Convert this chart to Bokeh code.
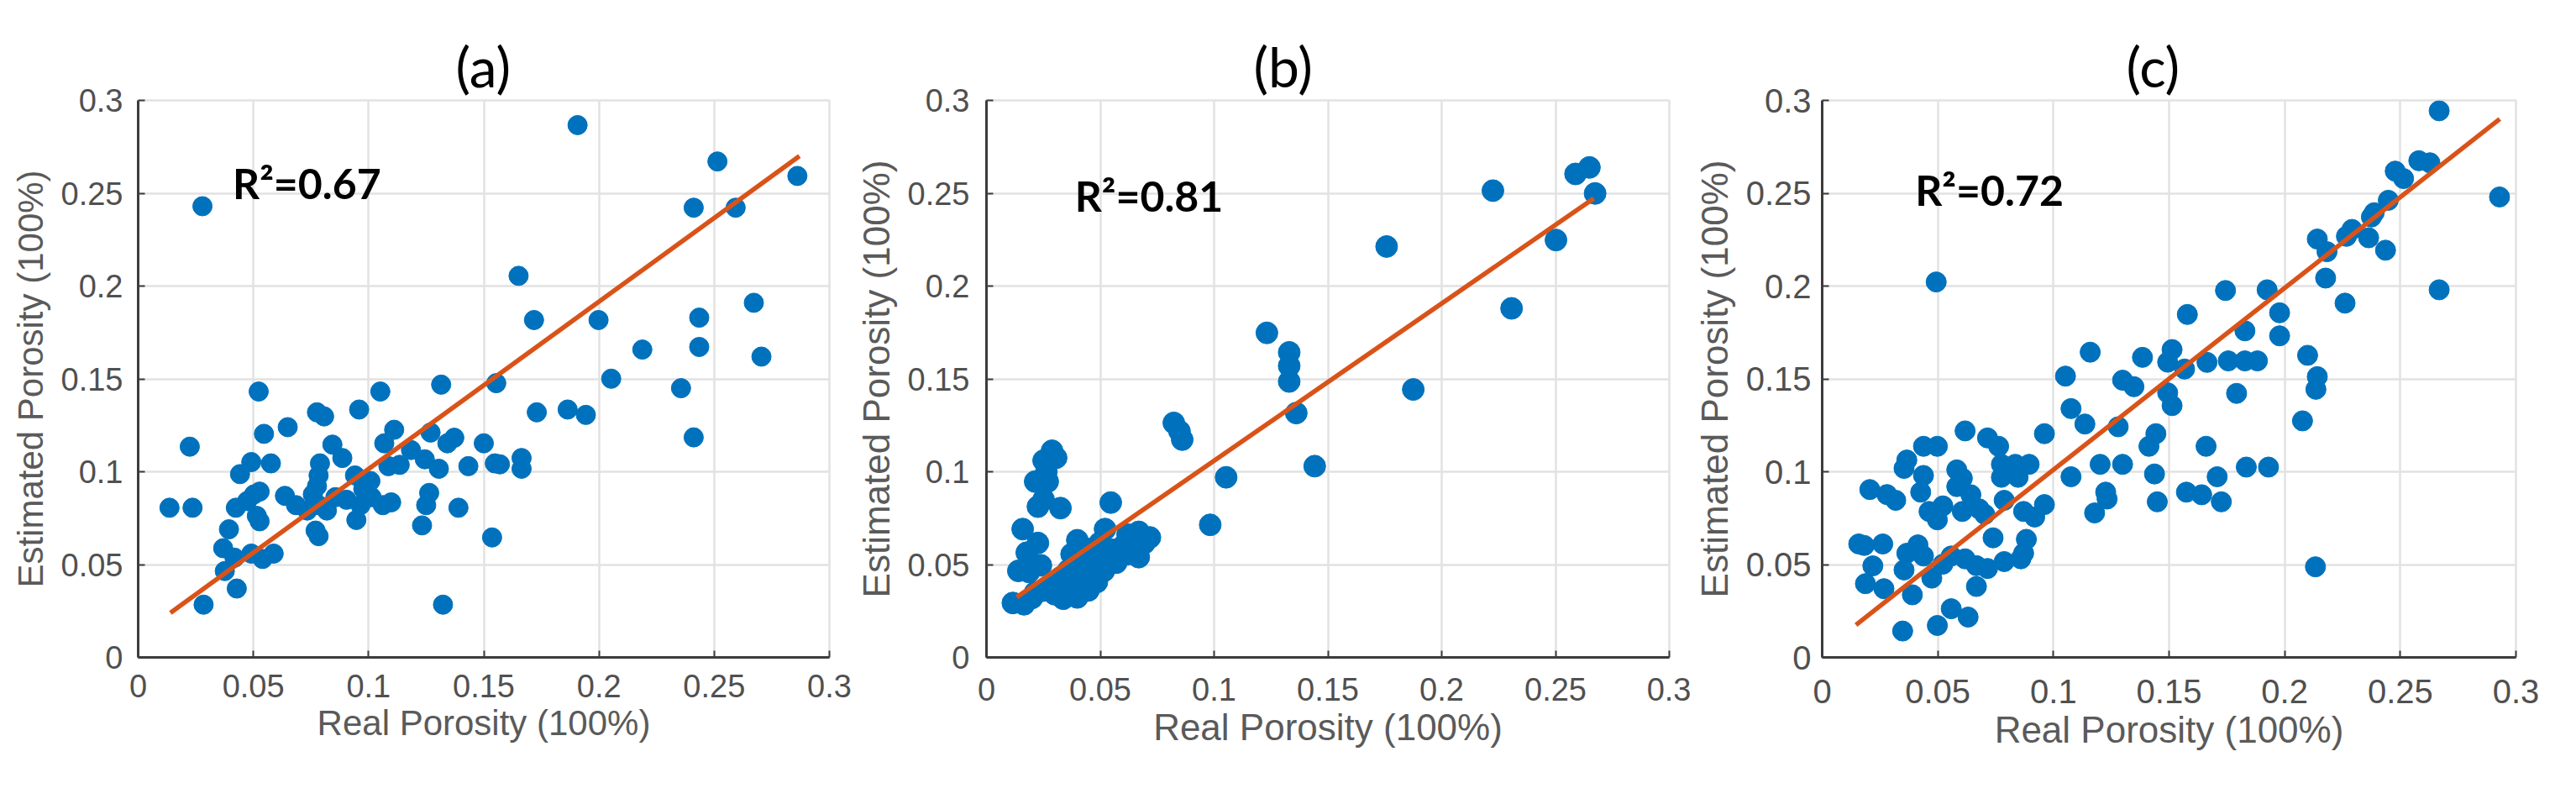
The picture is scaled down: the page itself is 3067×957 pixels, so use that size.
from bokeh.plotting import figure
from bokeh.layouts import row
from bokeh.models import Label, FixedTicker, Range1d
from bokeh.embed import file_html
from bokeh.resources import INLINE

# ---------------- data ----------------
tick_values = [0, 0.05, 0.1, 0.15, 0.2, 0.25, 0.3]
tick_labels = ["0", "0.05", "0.1", "0.15", "0.2", "0.25", "0.3"]
x_label = "Real Porosity (100%)"
y_label = "Estimated Porosity (100%)"
panel_titles = ["(a)", "(b)", "(c)"]
r2_values = ["0.67", "0.81", "0.72"]

a_pts = [(0.0224, 0.1135), (0.0136, 0.0806), (0.0236, 0.0806), (0.0284, 0.0284), (0.0428, 0.0371),
         (0.0394, 0.069), (0.0369, 0.0588), (0.0376, 0.0465), (0.0418, 0.0537), (0.0442, 0.0987),
         (0.0424, 0.0806), (0.0473, 0.0842), (0.0503, 0.0878), (0.0527, 0.0893), (0.0515, 0.0762),
         (0.0527, 0.0733), (0.0491, 0.1052), (0.0576, 0.1045), (0.0546, 0.1204), (0.0649, 0.124),
         (0.0523, 0.1432), (0.0776, 0.132), (0.0807, 0.1298), (0.0959, 0.1335), (0.0843, 0.1146),
         (0.0886, 0.1074), (0.0789, 0.1045), (0.0783, 0.098), (0.0776, 0.0922), (0.0637, 0.087),
         (0.0685, 0.082), (0.0734, 0.0791), (0.0758, 0.0878), (0.0783, 0.082), (0.0819, 0.0791),
         (0.077, 0.0683), (0.0783, 0.0653), (0.0856, 0.0863), (0.0904, 0.0849), (0.0941, 0.098),
         (0.0947, 0.074), (0.0965, 0.082), (0.1008, 0.095), (0.1013, 0.0863), (0.1062, 0.082),
         (0.1098, 0.0835), (0.1086, 0.103), (0.1135, 0.1037), (0.1068, 0.1153), (0.1111, 0.1226),
         (0.1184, 0.1117), (0.1244, 0.1067), (0.1305, 0.1016), (0.1269, 0.1211), (0.1342, 0.1153),
         (0.1372, 0.1183), (0.1263, 0.0886), (0.125, 0.082), (0.1232, 0.0711), (0.139, 0.0806),
         (0.1323, 0.0284), (0.1433, 0.103), (0.15, 0.1153), (0.1548, 0.1045), (0.1536, 0.0646),
         (0.0588, 0.0559), (0.054, 0.053), (0.0491, 0.0559), (0.0977, 0.0907),
         (0.1907, 0.2867), (0.0279, 0.243), (0.2514, 0.2671), (0.2861, 0.2593), (0.2411, 0.2422),
         (0.2593, 0.2422), (0.1651, 0.2055), (0.2672, 0.191), (0.1718, 0.1817), (0.1998, 0.1817),
         (0.2435, 0.183), (0.2188, 0.1658), (0.2435, 0.1672), (0.2705, 0.162), (0.2053, 0.1501),
         (0.2356, 0.145), (0.2411, 0.1185), (0.173, 0.132), (0.1864, 0.1335), (0.1943, 0.1306),
         (0.1554, 0.1477), (0.1315, 0.1469), (0.1051, 0.1432), (0.157, 0.104), (0.1664, 0.1074),
         (0.1664, 0.1016)]

b_pts = [(0.0288, 0.1113), (0.0306, 0.1075), (0.0251, 0.106), (0.0263, 0.1), (0.0214, 0.0947),
         (0.0269, 0.0947), (0.0226, 0.0812), (0.0251, 0.085), (0.0325, 0.0804), (0.0546, 0.0834),
         (0.0159, 0.0691), (0.0226, 0.0616), (0.0177, 0.0564), (0.014, 0.0466), (0.0187, 0.046),
         (0.0239, 0.0496), (0.0116, 0.0293), (0.0165, 0.0286), (0.0214, 0.035), (0.0276, 0.0376),
         (0.0337, 0.0316), (0.0399, 0.0323), (0.0325, 0.043), (0.0387, 0.042), (0.0448, 0.0361),
         (0.0485, 0.0406), (0.0399, 0.0631), (0.0374, 0.0556), (0.0436, 0.0586), (0.0521, 0.0691),
         (0.0516, 0.0466), (0.0546, 0.0526), (0.0595, 0.0586), (0.062, 0.0662), (0.0669, 0.0676),
         (0.0694, 0.0616), (0.0669, 0.054), (0.062, 0.0556), (0.057, 0.051), (0.0718, 0.0646),
         (0.0497, 0.0616), (0.0823, 0.1263), (0.0848, 0.1218), (0.086, 0.1173), (0.1053, 0.097),
         (0.0983, 0.0714), (0.1442, 0.103), (0.1361, 0.1316), (0.1758, 0.2213), (0.2225, 0.2514),
         (0.2588, 0.2604), (0.2649, 0.2639), (0.2674, 0.2499), (0.2502, 0.2248), (0.2307, 0.188),
         (0.1875, 0.1443), (0.1232, 0.1748), (0.133, 0.1643), (0.133, 0.157), (0.133, 0.1486),
         (0.035, 0.035), (0.045, 0.045), (0.05, 0.05), (0.04, 0.038), (0.03, 0.04),
         (0.055, 0.058), (0.06, 0.06), (0.065, 0.062), (0.043, 0.05), (0.02, 0.032),
         (0.025, 0.036), (0.03, 0.034), (0.047, 0.041), (0.052, 0.055), (0.036, 0.047)]

c_pts = [(0.1076, 0.134), (0.1136, 0.1257), (0.0961, 0.1205), (0.0618, 0.122), (0.0438, 0.1137),
         (0.0498, 0.1137), (0.0715, 0.1182), (0.0763, 0.1137), (0.0366, 0.1063), (0.0354, 0.1018),
         (0.0438, 0.098), (0.0582, 0.101), (0.0606, 0.0965), (0.0775, 0.104), (0.0835, 0.104),
         (0.0895, 0.104), (0.0775, 0.097), (0.0847, 0.097), (0.1076, 0.0973), (0.1202, 0.104),
         (0.1299, 0.104), (0.1437, 0.0988), (0.1443, 0.1205), (0.1413, 0.1137), (0.166, 0.1137),
         (0.1834, 0.1025), (0.193, 0.1025), (0.1708, 0.0973), (0.1575, 0.089), (0.1641, 0.0876),
         (0.1726, 0.0838), (0.1449, 0.0838), (0.1226, 0.089), (0.1232, 0.0853), (0.1178, 0.0778),
         (0.0318, 0.0846), (0.0426, 0.089), (0.0462, 0.0786), (0.0498, 0.0741), (0.0522, 0.0816),
         (0.0582, 0.092), (0.0606, 0.0786), (0.0643, 0.0876), (0.0679, 0.08), (0.0703, 0.077),
         (0.0787, 0.0846), (0.0871, 0.0786), (0.0919, 0.0756), (0.0961, 0.0823), (0.0739, 0.0644),
         (0.0883, 0.0636), (0.0871, 0.0561), (0.0859, 0.0531), (0.0787, 0.0516), (0.0715, 0.0479),
         (0.0667, 0.0494), (0.0618, 0.0531), (0.0667, 0.0382), (0.0558, 0.0546), (0.0522, 0.0502),
         (0.0474, 0.0427), (0.0414, 0.0606), (0.0438, 0.0546), (0.0366, 0.0561), (0.0354, 0.0471),
         (0.039, 0.0337), (0.0348, 0.0142), (0.0498, 0.0172), (0.0558, 0.0262), (0.0631, 0.0217),
         (0.1513, 0.1356), (0.128, 0.1242),
         (0.2668, 0.2944), (0.2929, 0.248), (0.2668, 0.198), (0.258, 0.2675), (0.2628, 0.2664),
         (0.2478, 0.2619), (0.2514, 0.2579), (0.2448, 0.2462), (0.2387, 0.2395), (0.2375, 0.2372),
         (0.2291, 0.2305), (0.2267, 0.2268), (0.2363, 0.226), (0.2436, 0.2193), (0.2141, 0.2253),
         (0.2183, 0.2185), (0.2177, 0.2043), (0.2261, 0.1908), (0.1924, 0.198), (0.1978, 0.1856),
         (0.1978, 0.1732), (0.1744, 0.1976), (0.1828, 0.1759), (0.2099, 0.1627), (0.2141, 0.1512),
         (0.2135, 0.1444), (0.1792, 0.1422), (0.1756, 0.1597), (0.1828, 0.1597), (0.1882, 0.1597),
         (0.0493, 0.2022), (0.1579, 0.1847), (0.1664, 0.1589), (0.1513, 0.1658), (0.1494, 0.159),
         (0.1567, 0.1553), (0.1494, 0.1425), (0.1385, 0.1616), (0.1348, 0.1458), (0.1299, 0.1493),
         (0.1159, 0.1644), (0.1052, 0.1515), (0.2077, 0.1274), (0.2133, 0.0488), (0.0158, 0.0611),
         (0.0182, 0.0603), (0.0206, 0.0904), (0.028, 0.0877), (0.0262, 0.0611), (0.0219, 0.0493),
         (0.0187, 0.0397), (0.0267, 0.037)]

# fitted regression lines (end points)
a_fit_x = [0.014, 0.287]
a_fit_y = [0.024, 0.270]
b_fit_x = [0.0133, 0.2668]
b_fit_y = [0.0325, 0.2472]
c_fit_x = [0.0146, 0.293]
c_fit_y = [0.0175, 0.290]

# R^2 annotation anchor (data units)
r2_x = [0.041, 0.0388, 0.0402]
r2_y = [0.2553, 0.2486, 0.252]

BLUE = "#0072BD"
ORANGE = "#D95319"
AX = "#3c3c3c"
GRID = "#e2e2e2"
TICK_TXT = "#505050"
LAB_TXT = "#5a5a5a"


def make_panel(title, pts, fx, fy, r2, rx, ry, width, height, bl, br, bt, bb,
               dot, tick_fs, lab_fs, xstand, ystand, title_off):
    p = figure(width=width, height=height, output_backend="svg", toolbar_location=None,
               x_range=Range1d(0, 0.3), y_range=Range1d(0, 0.3),
               min_border_left=bl, min_border_right=br, min_border_top=bt, min_border_bottom=bb,
               background_fill_color="white", border_fill_color="white")
    p.title.text = title
    p.title.text_font = "Lato"
    p.title.text_font_size = "66px"
    p.title.text_font_style = "normal"
    p.title.text_color = "black"
    p.title.align = "left"
    p.title.offset = title_off
    p.title.standoff = 4

    for ax in (p.xaxis[0], p.yaxis[0]):
        ax.ticker = FixedTicker(ticks=tick_values)
        ax.major_label_overrides = {t: l for t, l in zip(tick_values, tick_labels)}
        ax.major_tick_in = 8
        ax.major_tick_out = 0
        ax.minor_tick_in = 0
        ax.minor_tick_out = 0
        ax.axis_line_color = AX
        ax.axis_line_width = 3
        ax.major_tick_line_color = AX
        ax.major_tick_line_width = 2
        ax.major_label_text_font = "Liberation Sans"
        ax.major_label_text_font_size = tick_fs
        ax.major_label_text_color = TICK_TXT
        ax.axis_label_text_font = "Liberation Sans"
        ax.axis_label_text_font_size = lab_fs
        ax.axis_label_text_font_style = "normal"
        ax.axis_label_text_color = LAB_TXT
    p.xaxis.axis_label = x_label
    p.yaxis.axis_label = y_label
    p.xaxis.major_label_standoff = xstand
    p.yaxis.major_label_standoff = ystand
    p.xaxis.axis_label_standoff = 4
    p.yaxis.axis_label_standoff = 10

    p.grid.grid_line_color = GRID
    p.grid.grid_line_width = 2.5
    p.outline_line_color = GRID
    p.outline_line_width = 2.5

    xs = [q[0] for q in pts]
    ys = [q[1] for q in pts]
    p.scatter(xs, ys, size=dot, fill_color=BLUE, line_color=BLUE, line_width=1)
    p.line(fx, fy, line_color=ORANGE, line_width=5.5)

    p.add_layout(Label(x=rx, y=ry, text="R\u00b2=" + r2, text_font="Lato",
                       text_font_style="bold", text_font_size="50px", text_color="black",
                       text_baseline="middle", text_align="left"))
    return p


pa = make_panel(panel_titles[0], a_pts, a_fit_x, a_fit_y, r2_values[0], r2_x[0], r2_y[0],
                1014, 941, 164, 27, 104, 147, 23, "38px", "42px", 20, 18, 378)
pb = make_panel(panel_titles[1], b_pts, b_fit_x, b_fit_y, r2_values[1], r2_x[1], r2_y[1],
                999, 941, 160, 26, 117, 159, 26, "38px", "44px", 24, 20, 318)
pc = make_panel(panel_titles[2], c_pts, c_fit_x, c_fit_y, r2_values[2], r2_x[2], r2_y[2],
                1037, 941, 151, 55, 119, 154, 24, "40px", "44px", 26, 13, 362)

layout = row(pa, pb, pc)
open("out.html", "w").write(file_html(layout, INLINE))
